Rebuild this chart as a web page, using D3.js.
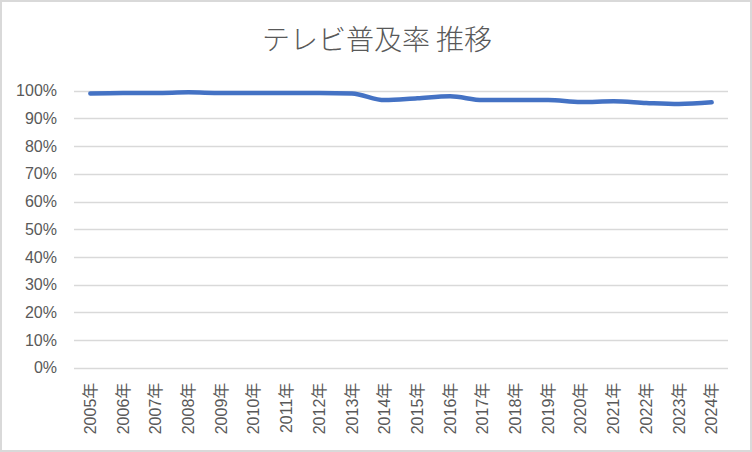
<!DOCTYPE html>
<html><head><meta charset="utf-8">
<script src="https://cdn.jsdelivr.net/npm/d3@7"></script>
<style>body{margin:0;background:#fff}svg{display:block}</style>
</head><body>
<script>
const years = ["2005年","2006年","2007年","2008年","2009年","2010年","2011年","2012年","2013年","2014年","2015年","2016年","2017年","2018年","2019年","2020年","2021年","2022年","2023年","2024年"];
const rates = [99.0,99.2,99.2,99.4,99.2,99.2,99.2,99.2,99.0,96.6,97.3,98.0,96.6,96.6,96.6,95.9,96.2,95.6,95.2,95.8];
const yTicks = [0,10,20,30,40,50,60,70,80,90,100];
const title = "テレビ普及率 推移";

(function(){
const W=752,H=452;
const svg=d3.select("body").append("svg").attr("width",W).attr("height",H);
svg.append("rect").attr("x",1).attr("y",1).attr("width",W-2).attr("height",H-2)
  .attr("fill","#fff").attr("stroke","#d9d9d9").attr("stroke-width",2);

const pl=74,pr=728,pt=90.7,pb=367.7;
const x=d3.scaleBand().domain(years).range([pl,pr]);
const y=d3.scaleLinear().domain([0,100]).range([pb,pt]);

svg.append("text").attr("x",377).attr("y",50).attr("text-anchor","middle")
  .attr("font-family","'Noto Sans CJK JP'").attr("font-weight",300).attr("font-size",28)
  .attr("fill","#595959").text(title);

const grid=svg.append("g");
grid.selectAll("line").data(yTicks).join("line")
  .attr("x1",pl).attr("x2",pr).attr("y1",d=>Math.round(y(d))+0.5).attr("y2",d=>Math.round(y(d))+0.5)
  .attr("stroke","#d9d9d9").attr("stroke-width",1.3);

const yAxis=svg.append("g").attr("transform",`translate(${pl},0)`)
  .call(d3.axisLeft(y).tickValues(yTicks).tickSize(0).tickPadding(17).tickFormat(d=>d+"%"));
yAxis.select(".domain").remove();
yAxis.selectAll("text").attr("font-family","'Liberation Sans',Arial,sans-serif").attr("font-size",16).attr("fill","#595959");

const xAxis=svg.append("g").attr("transform",`translate(0,${pb})`)
  .call(d3.axisBottom(x).tickSize(0).tickPadding(0));
xAxis.select(".domain").remove();
xAxis.selectAll("text")
  .attr("font-family","'Liberation Sans','Noto Sans CJK JP',sans-serif").attr("font-size",16).attr("fill","#595959")
  .attr("transform","rotate(-90)").attr("text-anchor","end").attr("dy","0.35em").attr("x",-15).attr("y",0);

const line=d3.line().x((d,i)=>x(years[i])+x.bandwidth()/2).y(d=>y(d)).curve(d3.curveMonotoneX);
svg.append("path").datum(rates).attr("d",line).attr("fill","none")
  .attr("stroke","#4472C4").attr("stroke-width",4.5).attr("stroke-linecap","round").attr("stroke-linejoin","round");
})();
</script>
</body></html>
